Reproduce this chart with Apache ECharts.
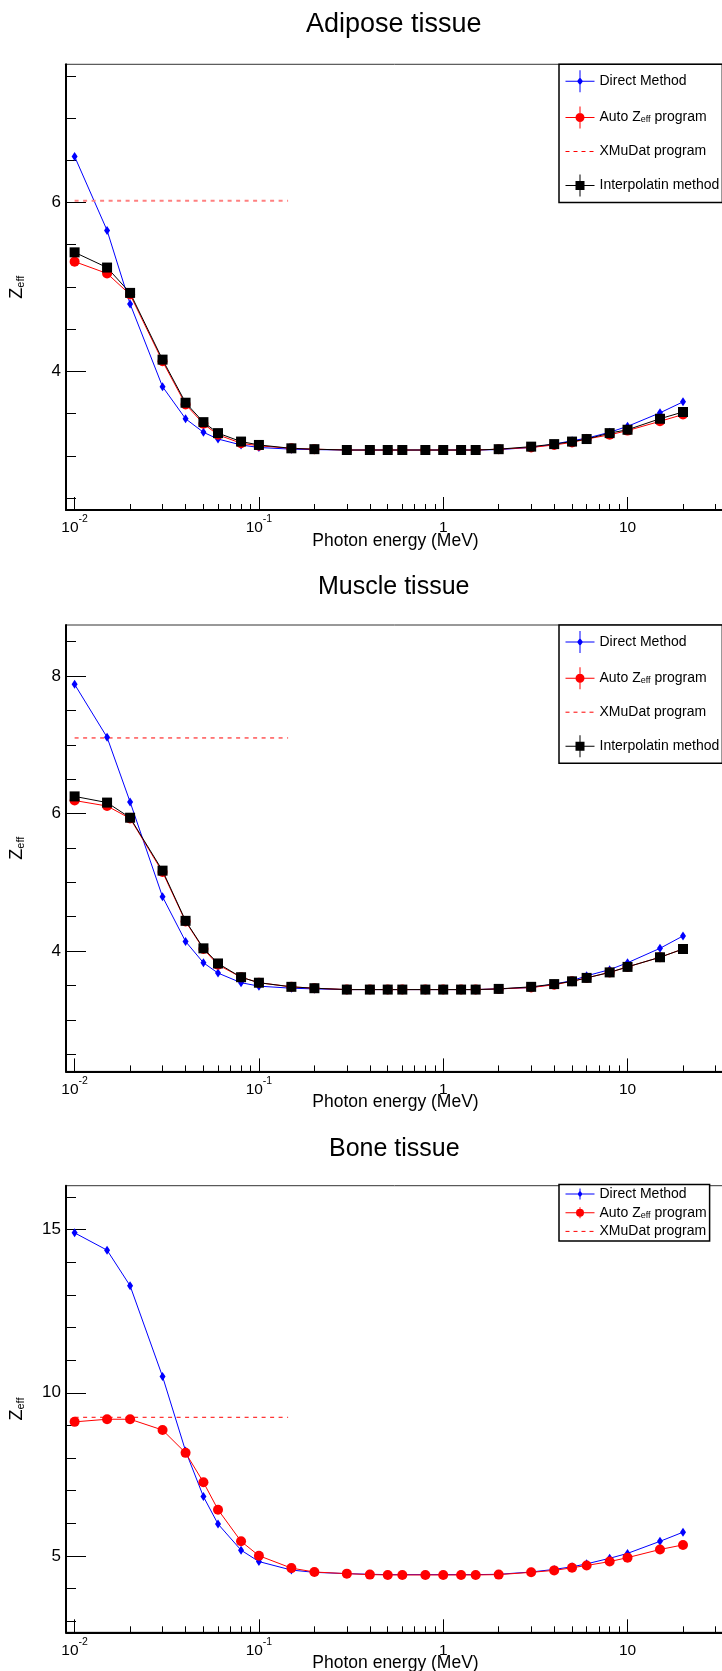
<!DOCTYPE html>
<html>
<head>
<meta charset="utf-8">
<script src="https://cdn.jsdelivr.net/npm/echarts@6.0.0/dist/echarts.min.js"></script>
<style>
html, body { margin: 0; padding: 0; background: #fff; }
#ChartDIV { width: 722px; height: 1671px; }
</style>
</head>
<body>
<div id="ChartDIV"></div>
<script>
// photon energies (MeV), same for all three tissues
var energies = [0.01, 0.015, 0.02, 0.03, 0.04, 0.05, 0.06, 0.08, 0.1, 0.15, 0.2, 0.3, 0.4, 0.5, 0.6, 0.8,
    1, 1.25, 1.5, 2, 3, 4, 5, 6, 8, 10, 15, 20];

var adiposeDirect = [6.545, 5.67, 4.80, 3.82, 3.44, 3.28, 3.20, 3.13, 3.10, 3.08, 3.075, 3.07, 3.07, 3.07, 3.07, 3.07,
    3.07, 3.07, 3.07, 3.075, 3.10, 3.14, 3.18, 3.21, 3.28, 3.35, 3.51, 3.64];
var adiposeAuto = [5.30, 5.16, 4.91, 4.12, 3.61, 3.38, 3.25, 3.15, 3.12, 3.09, 3.08, 3.07, 3.07, 3.07, 3.07, 3.07,
    3.07, 3.07, 3.07, 3.08, 3.10, 3.13, 3.16, 3.20, 3.25, 3.30, 3.41, 3.49];
var adiposeInterp = [5.41, 5.23, 4.93, 4.14, 3.63, 3.40, 3.27, 3.17, 3.13, 3.09, 3.08, 3.07, 3.07, 3.07, 3.07, 3.07,
    3.07, 3.07, 3.07, 3.08, 3.11, 3.14, 3.17, 3.20, 3.27, 3.31, 3.44, 3.52];

var muscleDirect = [7.88, 7.11, 6.17, 4.79, 4.14, 3.83, 3.68, 3.54, 3.49, 3.46, 3.45, 3.44, 3.44, 3.44, 3.44, 3.44,
    3.44, 3.44, 3.44, 3.45, 3.47, 3.52, 3.57, 3.64, 3.73, 3.83, 4.04, 4.22];
var muscleAuto = [6.19, 6.11, 5.93, 5.15, 4.43, 4.03, 3.80, 3.62, 3.54, 3.48, 3.46, 3.44, 3.44, 3.44, 3.44, 3.44,
    3.44, 3.44, 3.44, 3.45, 3.47, 3.51, 3.56, 3.61, 3.69, 3.77, 3.91, 4.03];
var muscleInterp = [6.25, 6.16, 5.94, 5.17, 4.44, 4.04, 3.82, 3.62, 3.54, 3.48, 3.46, 3.44, 3.44, 3.44, 3.44, 3.44,
    3.44, 3.44, 3.44, 3.45, 3.48, 3.52, 3.56, 3.61, 3.69, 3.77, 3.91, 4.03];

var boneDirect = [14.90, 14.37, 13.28, 10.50, 8.22, 6.82, 5.98, 5.18, 4.83, 4.57, 4.50, 4.46, 4.44, 4.43, 4.43, 4.43,
    4.43, 4.43, 4.43, 4.44, 4.51, 4.59, 4.67, 4.76, 4.93, 5.08, 5.45, 5.73];
var boneAuto = [9.11, 9.19, 9.19, 8.86, 8.16, 7.26, 6.42, 5.45, 5.01, 4.63, 4.51, 4.46, 4.43, 4.42, 4.42, 4.42,
    4.42, 4.42, 4.42, 4.43, 4.50, 4.56, 4.64, 4.71, 4.83, 4.95, 5.20, 5.34];

// XMuDat single value per tissue, drawn as a dashed segment
var xmudatValues = [6.02, 7.10, 9.25];
var xmudatRange = [0.01, 0.144];

var titles = ['Adipose tissue', 'Muscle tissue', 'Bone tissue'];
var xMajorTicks = [0.01, 0.1, 1, 10];
var xMajorLabels = ['{b|10}{s|-2}', '{b|10}{s|-1}', '{b|1}', '{b|10}'];
var xMinorTicks = [0.02, 0.03, 0.04, 0.05, 0.06, 0.07, 0.08, 0.09, 0.2, 0.3, 0.4, 0.5, 0.6, 0.7, 0.8, 0.9,
    2, 3, 4, 5, 6, 7, 8, 9, 20, 30];
var yMajorTicks = [[4, 6], [4, 6, 8], [5, 10, 15]];
var yMinorTicks = [
    [2.5, 3, 3.5, 4.5, 5, 5.5, 6.5, 7, 7.5],
    [2.5, 3, 3.5, 4.5, 5, 5.5, 6.5, 7, 7.5, 8.5],
    [3, 4, 6, 7, 8, 9, 11, 12, 13, 14, 16]
];
var yRanges = [[2.36, 7.636], [2.25, 8.743], [2.663, 16.345]];
var xRange = [0.00898, 33.8];

var seriesNames = ['Direct Method', 'Auto Z_eff program', 'XMuDat program', 'Interpolatin method'];
var panelData = [
    [adiposeDirect, adiposeAuto, adiposeInterp],
    [muscleDirect, muscleAuto, muscleInterp],
    [boneDirect, boneAuto, null]
];

var FONT = 'Liberation Sans, Arial, Helvetica, sans-serif';
var gridTop = [64.3, 625, 1185.7];
var gridHeight = [445.7, 446.4, 446.6];
var titleLeft = [306, 318, 329];
var titleTop = [12, 574, 1136];
var titleSize = [27, 25, 25];
var legendTop = [64.3, 625, 1184.5];

var iconsBig = [
    'path://M0 10.5H29V11.5H0Z M14 0H15V22H14Z M14.5 7L17.5 11L14.5 15L11.5 11Z',
    'path://M0 10.5H29V11.5H0Z M14 0H15V22H14Z M10 11A4.5 4.5 0 1 1 19 11A4.5 4.5 0 1 1 10 11Z',
    null,
    'path://M0 10.5H29V11.5H0Z M14 0H15V22H14Z M10 6.5H19V15.5H10Z'
];
var iconsSmall = [
    'path://M0 5H29V6H0Z M14 0H15V11H14Z M14.5 2L17 5.5L14.5 9L12 5.5Z',
    'path://M0 5H29V6H0Z M14 0H15V11H14Z M10.5 5.5A4 4 0 1 1 18.5 5.5A4 4 0 1 1 10.5 5.5Z',
    null
];

function pairs(ys) {
    return energies.map(function (e, i) { return [e, ys[i]]; });
}

function legendFor(k) {
    var small = k === 2;
    var icons = small ? iconsSmall : iconsBig;
    var data = [];
    for (var i = 0; i < icons.length; i++) {
        if (icons[i]) {
            data.push({ name: seriesNames[i], icon: icons[i] });
        } else {
            // dashed line only, hide the default symbol
            data.push({
                name: seriesNames[i],
                itemStyle: { opacity: 0 },
                lineStyle: { color: '#ff0000', width: 1, type: [4, 4] }
            });
        }
    }
    return {
        orient: 'vertical',
        left: 559,
        top: legendTop[k],
        padding: small ? [2.5, 3, 2.5, 6] : [6, 3, 6, 6],
        itemGap: small ? 4.7 : 14.2,
        itemWidth: 29,
        itemHeight: small ? 11 : 22,
        borderColor: '#000',
        borderWidth: 1.5,
        borderRadius: 0,
        backgroundColor: '#fff',
        selectedMode: false,
        lineStyle: { width: 1 },
        textStyle: {
            fontFamily: FONT, fontSize: 14, lineHeight: 14, color: '#000',
            rich: { sub: { fontFamily: FONT, fontSize: 9, lineHeight: 2, verticalAlign: 'bottom', color: '#000' } }
        },
        formatter: function (name) {
            return name === 'Auto Z_eff program' ? 'Auto Z{sub|eff} program' : name;
        },
        data: data
    };
}

function xLabel(v) {
    for (var i = 0; i < xMajorTicks.length; i++) {
        if (Math.abs(Math.log10(v) - Math.log10(xMajorTicks[i])) < 0.01) return xMajorLabels[i];
    }
    return '';
}

var xAxes = [], yAxes = [], grids = [], series = [];
for (var k = 0; k < 3; k++) {
    grids.push({
        left: 66, top: gridTop[k], width: 659, height: gridHeight[k],
        show: true, borderColor: '#333', borderWidth: 1, backgroundColor: 'transparent',
        containLabel: false, outerBoundsMode: 'none'
    });
}
// major axes first (index k), minor tick axes after (index 3 + k)
for (var k = 0; k < 3; k++) {
    xAxes.push({
        type: 'log', logBase: 10, gridIndex: k, position: 'bottom',
        min: xRange[0], max: xRange[1],
        name: 'Photon energy (MeV)', nameLocation: 'middle', nameGap: 22, nameMoveOverlap: false,
        nameTextStyle: { fontFamily: FONT, fontSize: 17.5, lineHeight: 18, color: '#000' },
        axisLine: { lineStyle: { color: '#000', width: 2 } },
        axisTick: { inside: true, length: 13, customValues: xMajorTicks, lineStyle: { color: '#000', width: 1 } },
        axisLabel: {
            customValues: xMajorTicks, margin: 4, color: '#000', formatter: xLabel,
            rich: {
                b: { fontFamily: FONT, fontSize: 15.5, lineHeight: 22, verticalAlign: 'bottom', color: '#000' },
                s: { fontFamily: FONT, fontSize: 10.5, lineHeight: 8, verticalAlign: 'top', color: '#000' }
            }
        },
        splitLine: { show: false }
    });
    yAxes.push({
        type: 'value', gridIndex: k, position: 'left',
        min: yRanges[k][0], max: yRanges[k][1],
        name: 'Z{sub|eff}', nameLocation: 'middle', nameGap: 40, nameMoveOverlap: false,
        nameTextStyle: {
            fontFamily: FONT, fontSize: 18, lineHeight: 18, color: '#000',
            rich: { sub: { fontFamily: FONT, fontSize: 11, lineHeight: 6, verticalAlign: 'bottom', color: '#000' } }
        },
        axisLine: { show: true, lineStyle: { color: '#000', width: 2 } },
        axisTick: { inside: true, length: 20, customValues: yMajorTicks[k], lineStyle: { color: '#000', width: 1 } },
        axisLabel: { customValues: yMajorTicks[k], margin: 5, fontFamily: FONT, fontSize: 17, color: '#000' },
        splitLine: { show: false }
    });
}
for (var k = 0; k < 3; k++) {
    xAxes.push({
        type: 'log', logBase: 10, gridIndex: k, position: 'bottom',
        min: xRange[0], max: xRange[1],
        axisLine: { show: false },
        axisTick: { inside: true, length: 6, customValues: xMinorTicks, lineStyle: { color: '#000', width: 1 } },
        axisLabel: { show: false },
        splitLine: { show: false }
    });
    yAxes.push({
        type: 'value', gridIndex: k, position: 'left',
        min: yRanges[k][0], max: yRanges[k][1],
        axisLine: { show: false },
        axisTick: { inside: true, length: 10, customValues: yMinorTicks[k], lineStyle: { color: '#000', width: 1 } },
        axisLabel: { show: false },
        splitLine: { show: false }
    });
}

for (var k = 0; k < 3; k++) {
    var d = panelData[k];
    series.push({
        name: seriesNames[0], type: 'line', xAxisIndex: k, yAxisIndex: k,
        data: pairs(d[0]), symbol: 'diamond', symbolSize: [6, 9],
        lineStyle: { color: '#0000ff', width: 1 }, itemStyle: { color: '#0000ff', borderWidth: 0 }
    });
    series.push({
        name: seriesNames[1], type: 'line', xAxisIndex: k, yAxisIndex: k,
        data: pairs(d[1]), symbol: 'circle', symbolSize: 10,
        lineStyle: { color: '#ff0000', width: 1 }, itemStyle: { color: '#ff0000', borderWidth: 0 }
    });
    series.push({
        name: seriesNames[2], type: 'line', xAxisIndex: k, yAxisIndex: k,
        data: [[xmudatRange[0], xmudatValues[k]], [xmudatRange[1], xmudatValues[k]]],
        symbol: 'none',
        lineStyle: { color: k === 0 ? '#ff8080' : '#ff0000', width: k === 0 ? 2 : 1, type: [4, 4.5] },
        itemStyle: { color: '#ff0000' }
    });
    if (d[2]) {
        series.push({
            name: seriesNames[3], type: 'line', xAxisIndex: k, yAxisIndex: k,
            data: pairs(d[2]), symbol: 'rect', symbolSize: 10,
            lineStyle: { color: '#000', width: 1 }, itemStyle: { color: '#000', borderWidth: 0 }
        });
    }
}

var myChart = echarts.init(document.getElementById('ChartDIV'));
var option = {
    animation: false,
    backgroundColor: '#fff',
    textStyle: { fontFamily: FONT },
    title: titles.map(function (t, k) {
        return {
            text: t, left: titleLeft[k], top: titleTop[k], padding: 0,
            textStyle: { fontFamily: FONT, fontSize: titleSize[k], lineHeight: 26, fontWeight: 'normal', color: '#000' }
        };
    }),
    legend: [0, 1, 2].map(legendFor),
    grid: grids,
    xAxis: xAxes,
    yAxis: yAxes,
    series: series
};
myChart.setOption(option);
</script>
</body>
</html>
